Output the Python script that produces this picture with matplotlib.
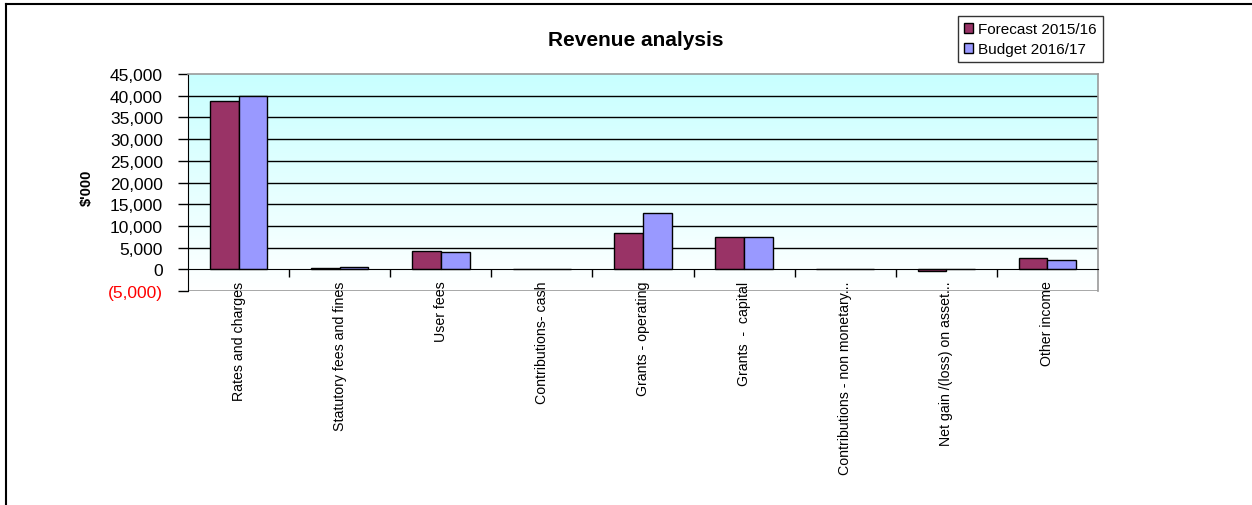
import numpy as np
import matplotlib
matplotlib.use("Agg")
from matplotlib import pyplot as plt
from matplotlib.lines import Line2D
from matplotlib.colors import LinearSegmentedColormap

categories = ["Rates and charges", "Statutory fees and fines", "User fees",
              "Contributions- cash", "Grants - operating", "Grants  -  capital",
              "Contributions - non monetary...", "Net gain /(loss) on asset...",
              "Other income"]
forecast = [38700, 200, 4200, 150, 8300, 7500, 100, -450, 2600]
budget = [40000, 500, 3900, 150, 13000, 7500, 100, 100, 2100]
yticks = [-5000, 0, 5000, 10000, 15000, 20000, 25000, 30000, 35000, 40000, 45000]

plt.rcParams['font.family'] = ['Liberation Sans', 'DejaVu Sans']

fig = plt.figure(figsize=(12.52, 5.06), dpi=100)
ax = fig.add_axes([188/1252, 1-292/506, 910/1252, 217/506])

# gradient background, cyan at top fading to white
cmap = LinearSegmentedColormap.from_list("bg", ["#FFFFFF", "#C8FFFF"])
grad = np.linspace(0, 1, 256).reshape(-1, 1)
ax.imshow(grad, extent=[-0.5, len(categories)-0.5, -5000, 45000], origin="lower",
          cmap=cmap, aspect="auto", zorder=0)

x = np.arange(len(categories))
w = 0.285
ax.bar(x - w/2, forecast, w, color="#993366", edgecolor="black", linewidth=1, zorder=3,
       label="Forecast 2015/16")
ax.bar(x + w/2, budget, w, color="#9999FF", edgecolor="black", linewidth=1, zorder=3,
       label="Budget 2016/17")

for v in yticks[2:-1]:
    ax.axhline(v, color="black", linewidth=1, zorder=1)
ax.axhline(-5000, color="#999999", linewidth=1.2, zorder=1)

ax.set_xlim(-0.5, len(categories)-0.5)
ax.set_ylim(-5000, 45000)

ax.spines["bottom"].set_position(("data", 0))
ax.spines["bottom"].set_zorder(4)
ax.spines["top"].set_color("#999999")
ax.spines["right"].set_color("#999999")
ax.spines["top"].set_linewidth(1.2)
ax.spines["right"].set_linewidth(1.2)

ax.set_yticks(yticks)
ylabels = []
for v in yticks:
    if v < 0:
        ylabels.append("({:,})".format(-v))
    else:
        ylabels.append("{:,}".format(v))
ax.set_yticklabels(ylabels, fontsize=12.5)
ax.get_yticklabels()[0].set_color("red")
ax.tick_params(axis="y", direction="out", length=7, width=1, pad=11)

ax.set_xticks(x)
ax.set_xticklabels(categories, rotation=90, va="top", ha="center", fontsize=10.2)
ax.set_xticks(np.arange(0.5, len(categories)-0.5, 1), minor=True)
ax.tick_params(axis="x", which="major", length=0, pad=8)
ax.tick_params(axis="x", which="minor", direction="out", length=6, width=1)

ax.set_ylabel("$'000", fontsize=10.5, fontweight="bold")
ax.yaxis.set_label_coords(-0.104, 0.48)
fig.text(636/1252, 1-41/506, "Revenue analysis", fontsize=15, fontweight="bold",
         ha="center", va="center")

leg = fig.legend(loc="upper left", bbox_to_anchor=(958/1252, 1-17/506), fontsize=11,
                 frameon=True, fancybox=False, edgecolor="black", handlelength=0.6,
                 handleheight=0.6, handletextpad=0.3, borderpad=0.4, labelspacing=0.4,
                 borderaxespad=0)
leg.get_frame().set_linewidth(1)

# outer frame (left and top edges)
fig.add_artist(Line2D([6/1252, 6/1252], [0, 1-5/506], color="black", linewidth=1.5,
                      transform=fig.transFigure))
fig.add_artist(Line2D([6/1252, 1], [1-5/506, 1-5/506], color="black", linewidth=1.5,
                      transform=fig.transFigure))

fig.savefig("out.png", dpi=100)
